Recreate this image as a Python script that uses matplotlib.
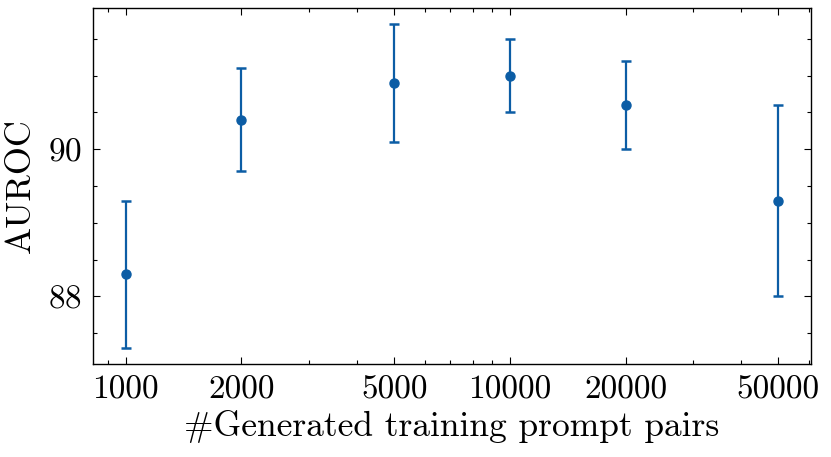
import matplotlib
matplotlib.use("Agg")
import matplotlib.pyplot as plt
from matplotlib.ticker import MultipleLocator, LogLocator, NullFormatter, FixedLocator, FixedFormatter

n_pairs = [1000, 2000, 5000, 10000, 20000, 50000]
auroc = [88.3, 90.4, 90.9, 91.0, 90.6, 89.3]
auroc_err = [1.0, 0.7, 0.8, 0.5, 0.6, 1.3]
tick_labels = ["1000", "2000", "5000", "10000", "20000", "50000"]

plt.rcParams['font.family'] = 'cmr10'
plt.rcParams['mathtext.fontset'] = 'cm'
plt.rcParams['axes.formatter.use_mathtext'] = True

fig = plt.figure(figsize=(8.31, 4.57), dpi=100)
ax = fig.add_axes([0.112, 0.2035, 0.864, 0.779])

color = '#0C5DA5'
ax.errorbar(n_pairs, auroc, yerr=auroc_err, fmt='o', color=color, ecolor=color,
            markersize=6.5, elinewidth=1.6, capsize=3.4, capthick=1.8)

ax.set_xscale('log')
ax.xaxis.set_major_locator(FixedLocator(n_pairs))
ax.xaxis.set_major_formatter(FixedFormatter(tick_labels))
ax.xaxis.set_minor_locator(LogLocator(base=10, subs=range(2, 10)))
ax.xaxis.set_minor_formatter(NullFormatter())

ax.yaxis.set_major_locator(MultipleLocator(2))
ax.yaxis.set_minor_locator(MultipleLocator(0.5))

ax.tick_params(which='both', direction='in', top=True, right=True, labelsize=24)
ax.tick_params(which='major', length=5, width=0.8, pad=8)
ax.tick_params(which='minor', length=3, width=0.8)
for s in ax.spines.values():
    s.set_linewidth(1.0)

ax.set_xlabel('#Generated training prompt pairs', fontsize=25.5, labelpad=4)
ax.set_ylabel('AUROC', fontsize=26, labelpad=8)

fig.savefig('out.png', dpi=100)
